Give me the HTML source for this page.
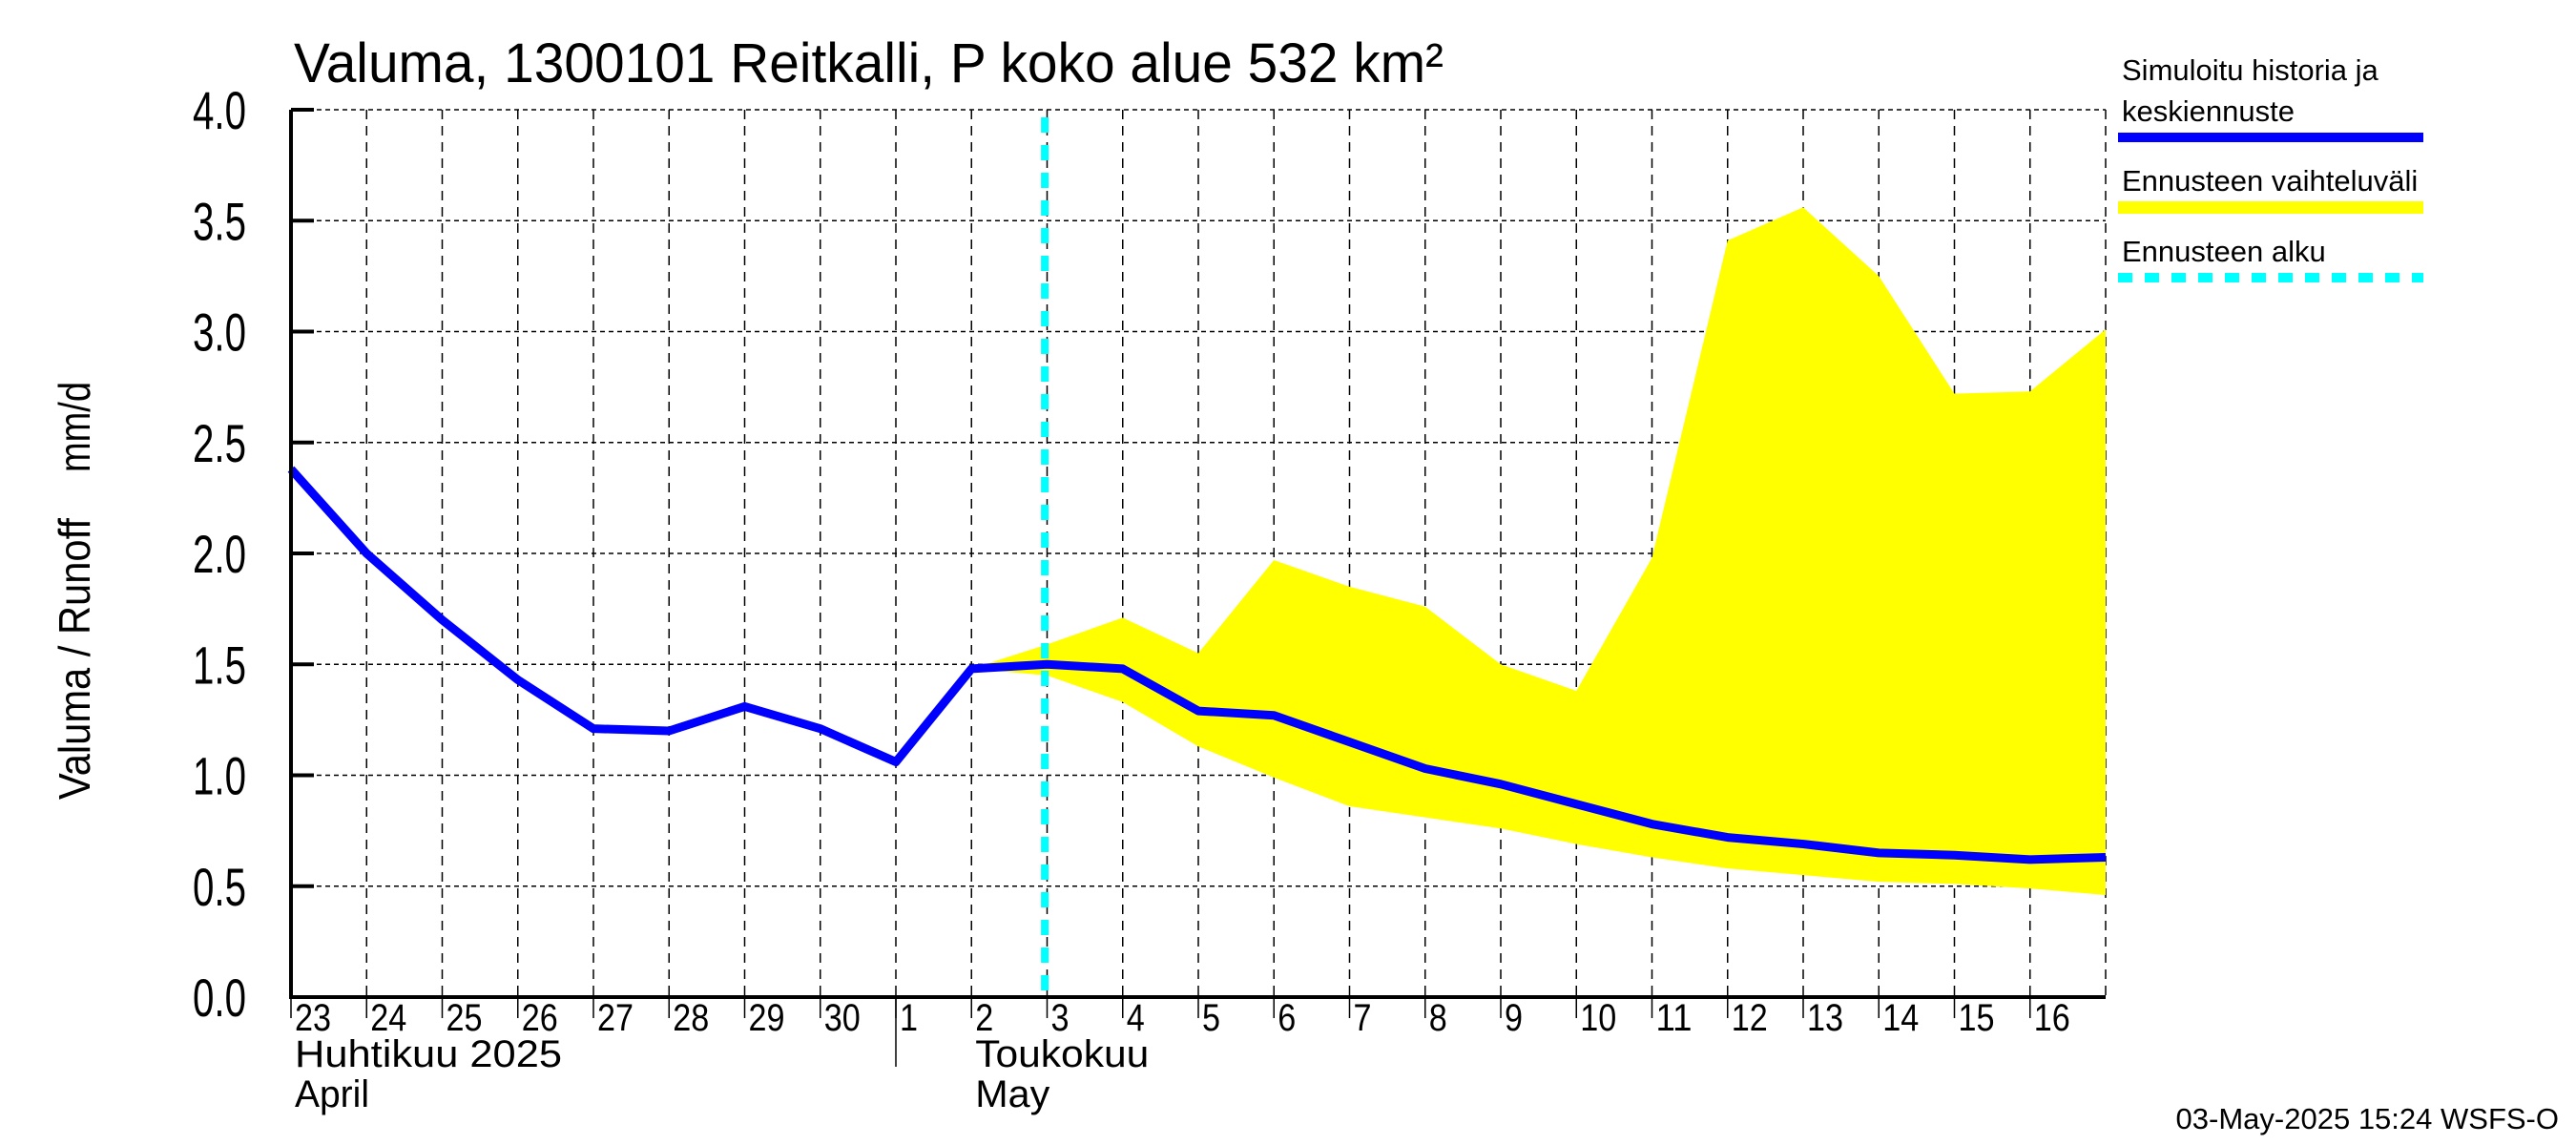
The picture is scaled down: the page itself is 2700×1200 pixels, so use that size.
<!DOCTYPE html>
<html><head><meta charset="utf-8"><style>
html,body{margin:0;padding:0;background:#fff}
svg{display:block;font-family:"Liberation Sans",sans-serif}
</style></head><body>
<svg id="chart" width="2700" height="1200" viewBox="0 0 2700 1200" xmlns="http://www.w3.org/2000/svg">
<rect width="2700" height="1200" fill="#fff"/>
<g id="grid"></g>
<g id="band"></g>
<g id="lines"></g>
<g id="axes"></g>
<text x="308" y="86" font-size="58" textLength="1205" lengthAdjust="spacingAndGlyphs">Valuma, 1300101 Reitkalli, P koko alue 532 km²</text>
<g transform="translate(94,620) rotate(-90)" font-size="46">
<text x="-218" y="0" textLength="295" lengthAdjust="spacingAndGlyphs">Valuma / Runoff</text>
<text x="125" y="0" textLength="95" lengthAdjust="spacingAndGlyphs">mm/d</text>
</g>
<g font-size="31">
<text x="2224" y="84">Simuloitu historia ja</text>
<text x="2224" y="127">keskiennuste</text>
<rect x="2220" y="139" width="320" height="10" fill="#0000ff"/>
<text x="2224" y="200">Ennusteen vaihteluväli</text>
<rect x="2220" y="211" width="320" height="13" fill="#ffff00"/>
<text x="2224" y="274">Ennusteen alku</text>
<line x1="2220" y1="291" x2="2540" y2="291" stroke="#00ffff" stroke-width="10" stroke-dasharray="15 13"/>
</g>
<text x="2682" y="1183" text-anchor="end" font-size="31">03-May-2025 15:24 WSFS-O</text>
</svg>
<script>
const dayLabels=["23","24","25","26","27","28","29","30","1","2","3","4","5","6","7","8","9","10","11","12","13","14","15","16"];
const yTicks=[0,0.5,1,1.5,2,2.5,3,3.5,4];
const yTickLabels=["0.0","0.5","1.0","1.5","2.0","2.5","3.0","3.5","4.0"];
const simValues=[2.38,2.0,1.7,1.43,1.21,1.2,1.31,1.21,1.06,1.48,1.50,1.48,1.29,1.27,1.15,1.03,0.96,0.87,0.78,0.72,0.69,0.65,0.64,0.62,0.63];
const bandStartDay=9;
const bandUpper=[1.48,1.59,1.71,1.55,1.97,1.85,1.76,1.50,1.38,1.98,3.41,3.56,3.25,2.72,2.73,3.01];
const bandLower=[1.48,1.45,1.33,1.13,0.99,0.86,0.81,0.76,0.69,0.63,0.58,0.55,0.52,0.51,0.49,0.46];
const forecastStartDay=9.97;
const monthLabels=[{day:0,a:"Huhtikuu  2025",b:"April",wa:280,wb:78},{day:8,a:"Toukokuu",b:"May",wa:182,wb:78}];

const NS="http://www.w3.org/2000/svg";
const L=305,R=2207,T=115,B=1045,ND=24,YMAX=4;
const X=d=>L+(R-L)*d/ND;
const Y=v=>B-(B-T)*v/YMAX;
function mk(tag,attrs,parent){const e=document.createElementNS(NS,tag);for(const k in attrs)e.setAttribute(k,attrs[k]);parent.appendChild(e);return e;}
const grid=document.getElementById('grid'),axes=document.getElementById('axes'),band=document.getElementById('band'),lines=document.getElementById('lines');

yTicks.forEach((v,i)=>{
  const g=mk('line',{x1:L,x2:R,y1:Y(v),y2:Y(v),stroke:'#000','stroke-width':1.5,'stroke-dasharray':'5 4'},grid);
  
  
  const t=mk('line',{x1:L,x2:L+24,y1:Y(v),y2:Y(v),stroke:'#000','stroke-width':4},axes);
  
  
  const tx=mk('text',{x:258,y:Y(v)+20,'text-anchor':'end','font-size':56,textLength:56,lengthAdjust:'spacingAndGlyphs'},axes);
  tx.textContent=yTickLabels[i];
  
  
});
for(let d=1;d<=ND;d++){
  const g=mk('line',{x1:X(d),x2:X(d),y1:T,y2:B,stroke:'#000','stroke-width':1.5,'stroke-dasharray':'10 7'},grid);
  
  
}
dayLabels.forEach((s,d)=>{
  const t=mk('line',{x1:X(d),x2:X(d),y1:B,y2:B+22,stroke:'#000','stroke-width':1.5},axes);
  
  
  const tx=mk('text',{x:X(d)+4,y:1080,'font-size':40,textLength:s.length*19,lengthAdjust:'spacingAndGlyphs'},axes);
  tx.textContent=s;
  
  
});
monthLabels.forEach(m=>{
  if(m.day>0){const l=mk('line',{x1:X(m.day),x2:X(m.day),y1:B,y2:1118,stroke:'#000','stroke-width':1.5},axes);
    
    }
  const off=m.day>0?X(m.day+1)+4:X(m.day)+4;
  const a=mk('text',{x:off,y:1118,'font-size':40,textLength:m.wa,lengthAdjust:'spacingAndGlyphs'},axes);a.textContent=m.a;
  
  
  const b=mk('text',{x:off,y:1160,'font-size':40,textLength:m.wb,lengthAdjust:'spacingAndGlyphs'},axes);b.textContent=m.b;
  
  
});
let pts=bandUpper.map((v,i)=>X(bandStartDay+i)+','+Y(v));
pts=pts.concat(bandLower.map((v,i)=>X(bandStartDay+i)+','+Y(v)).reverse());
const poly=mk('polygon',{points:pts.join(' '),fill:'#ffff00'},band);


const fl=mk('line',{x1:X(forecastStartDay),x2:X(forecastStartDay),y1:T+8,y2:B,stroke:'#00ffff','stroke-width':8,'stroke-dasharray':'16 13'},lines);


const sim=mk('polyline',{points:simValues.map((v,i)=>X(i)+','+Y(v)).join(' '),fill:'none',stroke:'#0000ff','stroke-width':9,'stroke-linejoin':'round'},lines);


const ax=mk('path',{d:`M${L},${T} V${B} H${R}`,fill:'none',stroke:'#000','stroke-width':4},axes);


</script>
</body></html>
